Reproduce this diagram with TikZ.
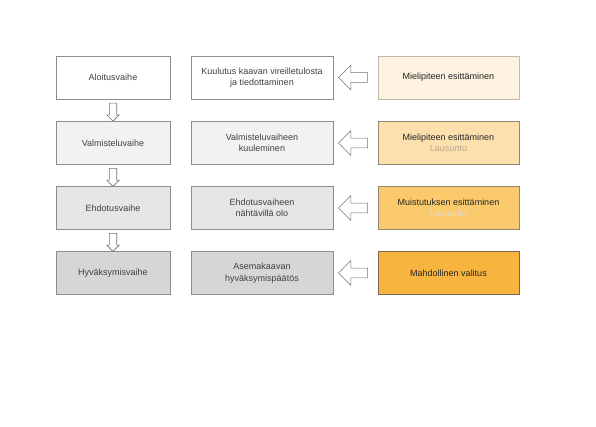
\documentclass[tikz,border=0pt]{standalone}
\usepackage{fontspec}
\setmainfont{Liberation Sans}
\usetikzlibrary{shapes.arrows,calc}

\definecolor{harmaa1}{HTML}{F2F2F2}
\definecolor{harmaa2}{HTML}{E6E6E6}
\definecolor{harmaa3}{HTML}{D6D6D6}
\definecolor{oranssi0}{HTML}{FDF2DF}
\definecolor{oranssi1}{HTML}{FCE1AE}
\definecolor{oranssi2}{HTML}{FACA6C}
\definecolor{oranssi3}{HTML}{F7B540}
\definecolor{tekstiharmaa}{HTML}{404040}
\definecolor{lausunto}{HTML}{B8A890}

\tikzset{
  vaihe/.style={draw=black!45, line width=0.5pt, minimum width=85.5pt, minimum height=32.25pt,
    inner sep=1pt, align=center, text=tekstiharmaa, font=\fontsize{6.75}{8.5}\selectfont},
  kuvaus/.style={vaihe, minimum width=106.5pt},
  osallinen/.style={vaihe, draw=brown!40!black!60, minimum width=105.75pt, text=black!85},
  alasnuoli/.style={draw=black!55, line width=0.4pt, fill=white, single arrow, shape border rotate=270,
    minimum height=13.5pt, minimum width=9pt, inner sep=2.6pt, single arrow head extend=1.9pt},
  vasennuoli/.style={draw=black!55, line width=0.4pt, fill=white, single arrow, shape border rotate=180,
    minimum height=21.75pt, minimum width=18pt, inner sep=3.4pt, single arrow head extend=5.6pt},
}

\begin{document}
\begin{tikzpicture}[x=0.75pt,y=0.75pt,yscale=-1,xscale=1]
\useasboundingbox (0,0) rectangle (596,426);

% Vaiheet
\node [vaihe, fill=white] (alo) at (113,77.5) {Aloitusvaihe};
\node [vaihe, fill=harmaa1] (val) at (113,143) {Valmisteluvaihe};
\node [vaihe, fill=harmaa2] (ehd) at (113,208) {Ehdotusvaihe};
\node [vaihe, fill=harmaa3] (hyv) at (113,273) {Hyväksymisvaihe};

% Kuvaukset
\node [kuvaus, fill=white] (kuul) at (262,77.5) {Kuulutus kaavan vireilletulosta\\ja tiedottaminen};
\node [kuvaus, fill=harmaa1] (kuol) at (262,143) {Valmisteluvaiheen\\kuuleminen};
\node [kuvaus, fill=harmaa2] (nakt) at (262,208) {Ehdotusvaiheen\\nähtävillä olo};
\node [kuvaus, fill=harmaa3] (paat) at (262,273) {Asemakaavan\\hyväksymispäätös};

% Osalliset
\node [osallinen, fill=oranssi0, draw=brown!40!black!35] (miel) at (448.5,77.5) {Mielipiteen esittäminen};
\node [osallinen, fill=oranssi1] (miel2) at (448.5,143) {Mielipiteen esittäminen\\{\color{lausunto}Lausunto}};
\node [osallinen, fill=oranssi2] (muis) at (448.5,208) {Muistutuksen esittäminen\\{\color{oranssi0!70!lausunto}Lausunto}};
\node [osallinen, fill=oranssi3, draw=brown!40!black!75] (vali) at (448.5,273) {Mahdollinen valitus};

% Nuolet alas
\node [alasnuoli] (n1) at ($(alo.south)!0.5!(val.north)$) {};
\node [alasnuoli] (n2) at ($(val.south)!0.5!(ehd.north)$) {};
\node [alasnuoli] (n3) at ($(ehd.south)!0.5!(hyv.north)$) {};

% Nuolet vasemmalle
\node [vasennuoli] (m1) at ($(kuul.east)!0.5!(miel.west)$) {};
\node [vasennuoli] (m2) at ($(kuol.east)!0.5!(miel2.west)$) {};
\node [vasennuoli] (m3) at ($(nakt.east)!0.5!(muis.west)$) {};
\node [vasennuoli] (m4) at ($(paat.east)!0.5!(vali.west)$) {};

\end{tikzpicture}
\end{document}
